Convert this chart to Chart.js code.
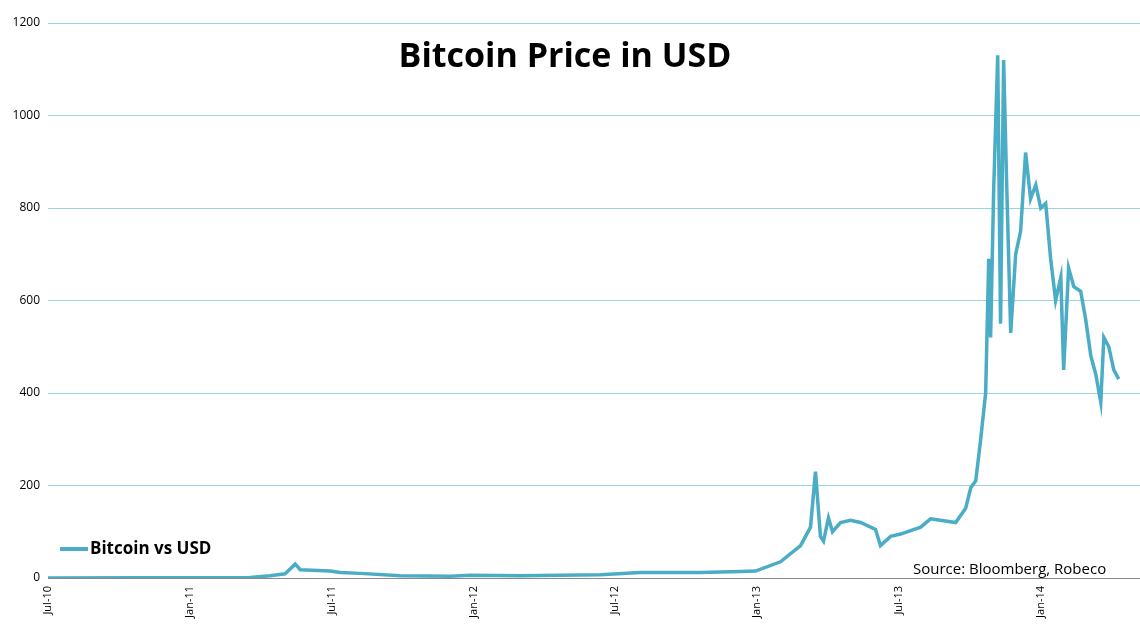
<!DOCTYPE html>
<html>
<head>
<meta charset="utf-8">
<script src="https://cdn.jsdelivr.net/npm/chart.js@4"></script>
<style>
  html, body { margin: 0; padding: 0; background: #fff; }
  #wrap { width: 1140px; height: 641px; }
</style>
</head>
<body>
<div id="wrap"><canvas id="c" width="1140" height="641"></canvas></div>
<script>
// months since Jul-2010
var months = [0, 4, 8.55, 9.4, 10.03, 10.46, 10.67, 11.94, 12.36, 13.21, 14.9, 17.02, 17.91, 19.98,
  23.37, 25.06, 27.6, 29.3, 29.93, 30.99, 31.84, 32.26, 32.47, 32.68, 32.81, 33.02, 33.19,
  33.53, 33.95, 34.38, 35.01, 35.22, 35.65, 36.07, 36.92, 37.34, 37.76, 38.4, 38.82, 39.04,
  39.25, 39.46, 39.67, 39.8, 39.88, 40.01, 40.18, 40.3, 40.43, 40.56, 40.73, 40.94, 41.15,
  41.36, 41.57, 41.79, 42.0, 42.21, 42.42, 42.63, 42.85, 42.97, 43.18, 43.4, 43.69, 43.9,
  44.12, 44.33, 44.54, 44.67, 44.88, 45.09, 45.3];
var prices = [0.1, 0.3, 0.9, 5, 9, 30, 18, 15, 12, 10, 5, 4, 6, 5,
  7, 12, 12, 14, 15, 35, 70, 110, 230, 90, 80, 130, 100,
  120, 125, 120, 105, 70, 90, 95, 110, 128, 125, 120, 150, 195,
  210, 300, 400, 690, 520, 840, 1130, 550, 1120, 850, 530, 700, 750,
  920, 820, 850, 800, 810, 690, 600, 650, 450, 670, 630, 620, 560,
  480, 440, 380, 520, 500, 450, 430];
var tickLabels = ['Jul-10', 'Jan-11', 'Jul-11', 'Jan-12', 'Jul-12', 'Jan-13', 'Jul-13', 'Jan-14'];

var points = months.map(function(m, i) { return { x: m, y: prices[i] }; });

// ── Title, legend, source text ──
var overlay = {
  id: 'overlay',
  afterDraw: function(chart) {
    var ctx = chart.ctx;
    ctx.save();
    ctx.fillStyle = '#000';
    ctx.font = 'bold 34px "Open Sans", sans-serif';
    ctx.textAlign = 'center';
    ctx.textBaseline = 'middle';
    ctx.fillText('Bitcoin Price in USD', 565, 57);
    ctx.strokeStyle = '#4bacc6';
    ctx.lineWidth = 4;
    ctx.beginPath(); ctx.moveTo(60, 549); ctx.lineTo(88, 549); ctx.stroke();
    ctx.textAlign = 'left';
    ctx.font = 'bold 17px "Open Sans", sans-serif';
    ctx.fillText('Bitcoin vs USD', 90, 549);
    ctx.font = '15px "Open Sans", sans-serif';
    ctx.fillText('Source: Bloomberg, Robeco', 913, 570);
    ctx.restore();
  }
};

new Chart(document.getElementById('c'), {
  type: 'line',
  data: {
    datasets: [{
      label: 'Bitcoin vs USD',
      data: points,
      borderColor: '#4bacc6',
      borderWidth: 3.5,
      pointRadius: 0,
      tension: 0,
      fill: false
    }]
  },
  options: {
    responsive: false,
    animation: false,
    layout: { padding: { top: 23, right: 0, left: 0, bottom: 0 } },
    plugins: { legend: { display: false }, tooltip: { enabled: false } },
    scales: {
      x: {
        type: 'linear', min: 0, max: 46.2,
        afterFit: function(s) { s.height = 63; },
        afterBuildTicks: function(s) {
          s.ticks = tickLabels.map(function(t, i) { return { value: i * 6 }; });
        },
        ticks: {
          color: '#000', autoSkip: false, maxRotation: 90, minRotation: 90,
          font: { family: '"Open Sans", sans-serif', size: 11 },
          callback: function(v) { return tickLabels[v / 6]; }
        },
        grid: { display: false, drawTicks: true, tickLength: 5, color: '#888' },
        border: { color: '#888' }
      },
      y: {
        min: 0, max: 1200,
        afterFit: function(s) { s.width = 48; },
        ticks: {
          stepSize: 200, color: '#000', padding: 8,
          font: { family: '"Open Sans", sans-serif', size: 12 },
          callback: function(v) { return String(v); }
        },
        grid: { color: '#6cc0d4', lineWidth: 0.7, drawTicks: false },
        border: { display: false }
      }
    }
  },
  plugins: [overlay]
});
</script>
</body>
</html>
